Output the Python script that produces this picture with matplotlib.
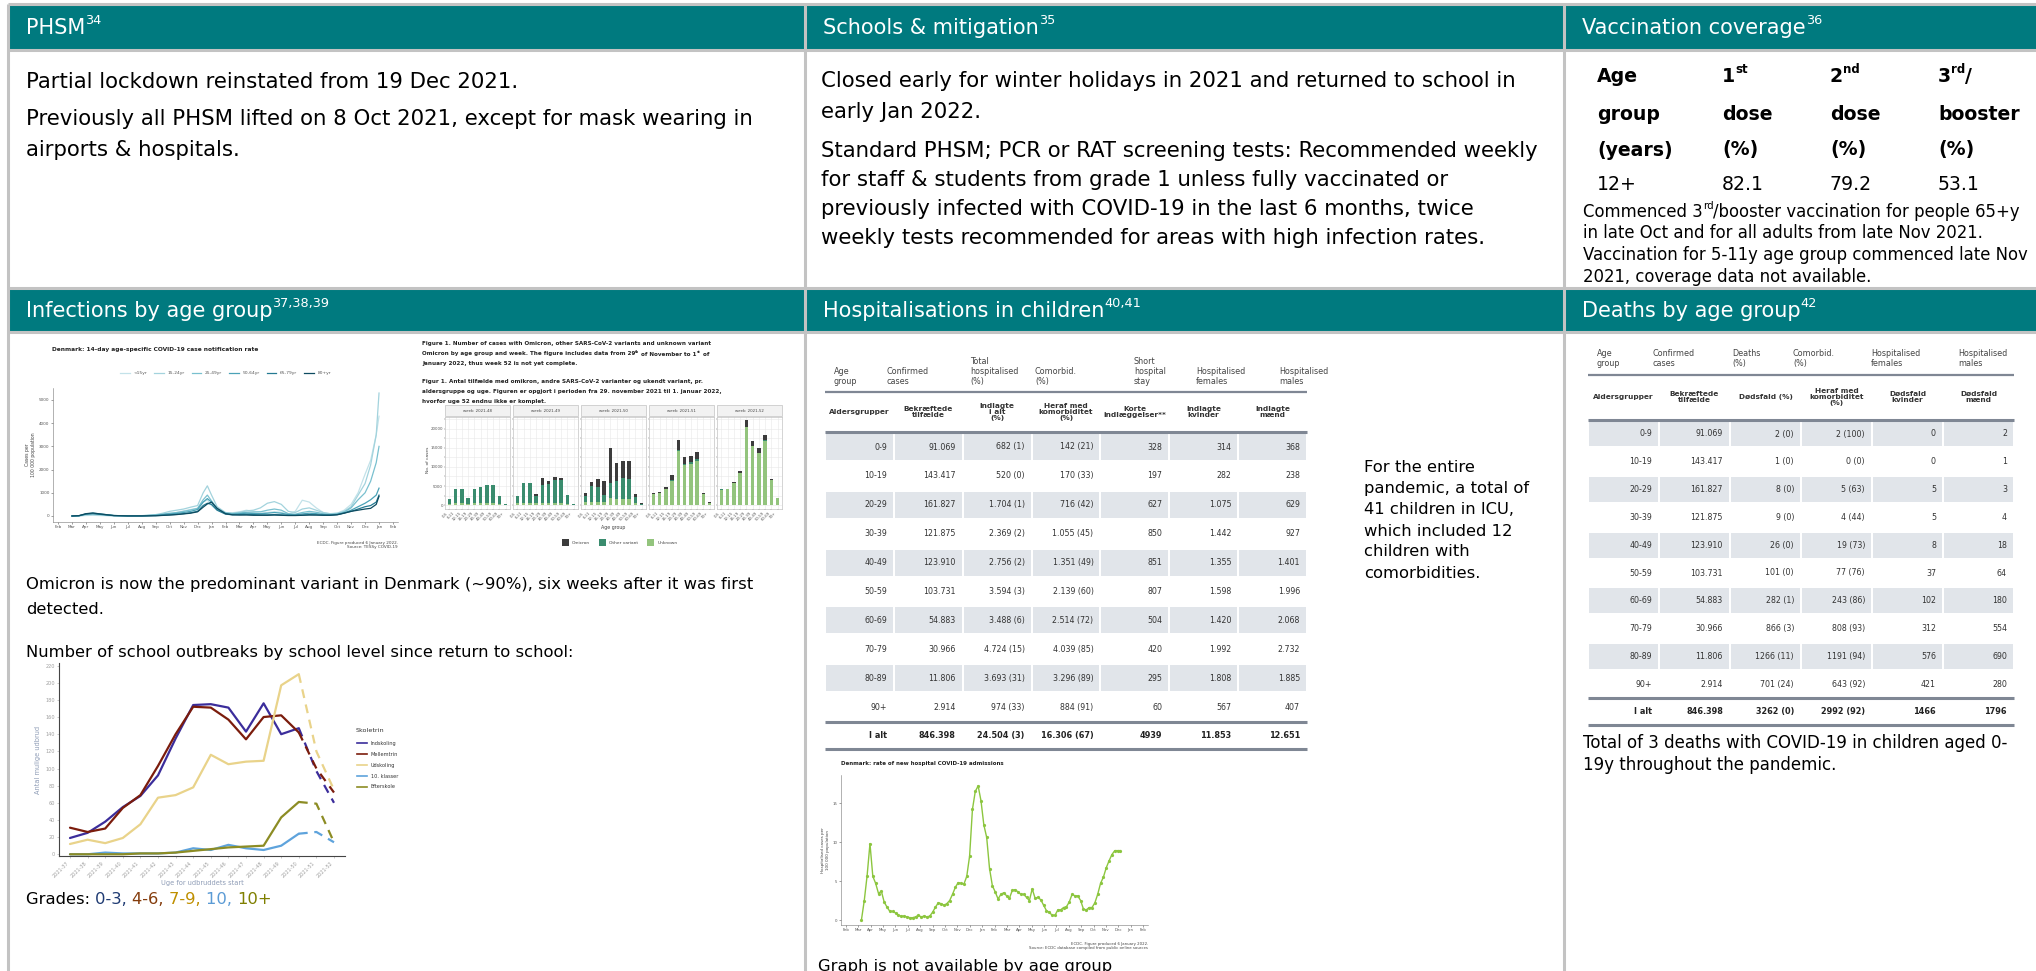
import matplotlib
matplotlib.use('Agg')
import numpy as np
import matplotlib.pyplot as plt
from matplotlib.patches import Rectangle

W, H = 2036, 971
TEAL = '#007a7f'
BORDER = '#c3c3c3'
STRIPE = '#e1e5ea'
RULE = '#7f8794'

plt.rcParams['font.family'] = ['DejaVu Sans']

# ---------------- data ----------------

# vaccination coverage (%)
vacc_age = ['12+']
vacc_dose1 = [82.1]
vacc_dose2 = [79.2]
vacc_booster = [53.1]

# 14-day case notification rate, months counted from Feb 2020
case_groups = ['<15yr', '15-24yr', '25-49yr', '50-64yr', '65-79yr', '80+yr']
case_colors = ['#c3e2e9', '#a3d3dd', '#79c0cf', '#4aa2b7', '#247a92', '#0d4b60']
case_months = [1.0, 1.5, 2.0, 2.5, 3.0, 4.0, 5.0, 6.0, 7.0, 7.5,
               8.0, 8.5, 9.0, 9.5, 10.0, 10.4, 10.7, 11.0, 11.4, 12.0,
               12.5, 13.0, 13.5, 14.0, 14.5, 15.0, 15.5, 16.0, 16.5, 17.0,
               17.5, 18.0, 18.5, 19.0, 19.5, 20.0, 20.5, 21.0, 21.5, 22.0,
               22.4, 22.8, 23.0]
rate_u15 = [0, 5, 20, 30, 20, 5, 3, 10, 30, 60, 90, 150, 220, 280, 330, 600, 700, 450, 250, 120,
            140, 180, 250, 200, 180, 150, 180, 160, 80, 200, 680, 600, 350, 150, 90, 120, 250, 500,
            1000, 1800, 2400, 3500, 4300]
rate_15_24 = [0, 5, 40, 60, 40, 10, 5, 15, 60, 120, 200, 250, 300, 380, 450, 1000, 1300, 900, 400, 150,
              120, 160, 220, 250, 350, 550, 620, 500, 200, 150, 300, 350, 250, 150, 100, 120, 200, 400,
              900, 1400, 2200, 3500, 5300]
rate_25_49 = [0, 10, 80, 110, 80, 20, 8, 10, 40, 80, 120, 150, 200, 260, 330, 700, 900, 650, 330, 130,
              100, 130, 160, 170, 180, 250, 300, 250, 100, 80, 150, 200, 160, 100, 70, 90, 170, 350,
              700, 1000, 1500, 2300, 3000]
rate_50_64 = [0, 10, 90, 120, 90, 20, 5, 5, 30, 60, 90, 110, 150, 200, 280, 600, 750, 600, 300, 110,
              80, 100, 120, 110, 100, 120, 150, 120, 60, 50, 90, 120, 100, 60, 50, 70, 130, 250,
              400, 550, 700, 900, 1200]
rate_65_79 = [0, 10, 80, 100, 70, 15, 3, 3, 15, 30, 50, 70, 100, 140, 200, 450, 550, 500, 250, 80,
              50, 60, 70, 60, 50, 50, 60, 50, 30, 30, 40, 60, 50, 40, 40, 60, 130, 200,
              300, 400, 450, 600, 900]
rate_80 = [0, 15, 100, 130, 90, 20, 3, 3, 10, 25, 40, 60, 90, 120, 180, 380, 520, 600, 330, 100,
           50, 40, 40, 30, 30, 30, 40, 30, 20, 20, 30, 40, 40, 30, 30, 50, 120, 200,
           250, 300, 330, 500, 850]

# variant cases by age group and week
variant_weeks = ['week: 2021-48', 'week: 2021-49', 'week: 2021-50', 'week: 2021-51', 'week: 2021-52']
variant_ages = ['0-5', '6-11', '12-15', '16-19', '20-29', '30-39', '40-49', '50-59', '60-69', '70+']
unknown_cases = [[300, 400, 400, 300, 400, 400, 400, 400, 300, 50],
                 [400, 500, 500, 400, 500, 500, 500, 500, 300, 50],
                 [700, 800, 800, 800, 1800, 1600, 1700, 1600, 600, 100],
                 [2900, 3100, 4150, 6300, 14200, 10400, 10800, 11600, 2800, 630],
                 [4050, 4150, 5850, 8300, 20450, 15500, 13700, 16950, 6450, 1730]]
other_cases = [[1400, 3800, 3900, 1500, 3900, 4300, 4900, 4800, 2200, 250],
               [2100, 5200, 5200, 2100, 4700, 4900, 6100, 6000, 2300, 250],
               [1800, 4300, 4000, 1900, 3900, 4600, 5300, 5200, 1500, 250],
               [100, 100, 150, 200, 300, 300, 400, 400, 100, 20],
               [50, 50, 50, 100, 150, 100, 100, 150, 50, 20]]
omicron_cases = [[0, 0, 0, 0, 30, 30, 30, 100, 0, 0],
                 [0, 0, 0, 400, 2000, 900, 800, 700, 100, 0],
                 [700, 1000, 2000, 3700, 9300, 4800, 4700, 4900, 900, 50],
                 [200, 300, 500, 1300, 2700, 1800, 1800, 2000, 300, 50],
                 [100, 100, 200, 600, 1700, 1200, 1200, 1400, 300, 50]]

# school outbreaks per week
school_weeks = ['2021-37', '2021-38', '2021-39', '2021-40', '2021-41', '2021-42', '2021-43', '2021-44',
                '2021-45', '2021-46', '2021-47', '2021-48', '2021-49', '2021-50', '2021-51', '2021-52']
school_levels = ['Indskoling', 'Mellemtrin', 'Udskoling', '10. klasser', 'Efterskole']
school_colors = ['#3b2d9b', '#7b1c0c', '#e9d38a', '#5ea3dc', '#8c8c24']
indskoling = [19, 25, 38, 55, 68, 92, 135, 174, 175, 171, 143, 176, 140, 147, 97, 60]
mellemtrin = [31, 26, 30, 54, 69, 103, 140, 172, 171, 157, 134, 160, 162, 142, 100, 72]
udskoling = [12, 17, 13, 19, 35, 66, 69, 78, 116, 105, 108, 109, 197, 210, 120, 75]
klasser10 = [0, 0, 2, 1, 1, 1, 2, 7, 5, 11, 7, 5, 10, 24, 26, 14]
efterskole = [0, 0, 0, 0, 1, 1, 2, 4, 6, 8, 9, 10, 43, 61, 59, 14]

# hospitalisations table
age_groups = ['0-9', '10-19', '20-29', '30-39', '40-49', '50-59', '60-69', '70-79', '80-89', '90+']
confirmed = ['91.069', '143.417', '161.827', '121.875', '123.910', '103.731', '54.883', '30.966', '11.806', '2.914']
hosp_total = ['682 (1)', '520 (0)', '1.704 (1)', '2.369 (2)', '2.756 (2)', '3.594 (3)', '3.488 (6)',
              '4.724 (15)', '3.693 (31)', '974 (33)']
hosp_comorb = ['142 (21)', '170 (33)', '716 (42)', '1.055 (45)', '1.351 (49)', '2.139 (60)', '2.514 (72)',
               '4.039 (85)', '3.296 (89)', '884 (91)']
hosp_short = ['328', '197', '627', '850', '851', '807', '504', '420', '295', '60']
hosp_female = ['314', '282', '1.075', '1.442', '1.355', '1.598', '1.420', '1.992', '1.808', '567']
hosp_male = ['368', '238', '629', '927', '1.401', '1.996', '2.068', '2.732', '1.885', '407']
hosp_sum = ['I alt', '846.398', '24.504 (3)', '16.306 (67)', '4939', '11.853', '12.651']

# weekly hospital admissions per 100 000, from early Mar 2020
hosp_rate = [0.0, 2.5, 5.7, 9.8, 5.6, 4.7, 3.4, 3.7, 2.3, 1.65,
             1.1, 1.1, 0.9, 0.6, 0.5, 0.5, 0.4, 0.3, 0.3, 0.4,
             0.6, 0.4, 0.5, 0.4, 0.5, 1.0, 1.65, 2.2, 2.1, 1.9,
             2.1, 2.5, 3.3, 4.2, 4.8, 4.7, 4.6, 5.6, 8.2, 14.2,
             16.5, 17.2, 15.3, 12.2, 10.6, 6.6, 4.4, 3.6, 2.7, 3.3,
             3.5, 3.1, 2.8, 3.8, 3.9, 3.6, 3.3, 3.3, 2.9, 2.5,
             4.0, 2.8, 2.9, 2.6, 1.9, 1.2, 1.0, 0.6, 0.6, 1.3,
             1.3, 1.6, 1.7, 2.3, 3.3, 3.1, 3.1, 2.5, 1.4, 1.3,
             1.6, 1.6, 2.2, 3.3, 4.7, 5.5, 6.7, 7.6, 8.4, 8.9,
             8.9, 8.9]

# deaths table
death_n = ['2 (0)', '1 (0)', '8 (0)', '9 (0)', '26 (0)', '101 (0)', '282 (1)', '866 (3)', '1266 (11)', '701 (24)']
death_comorb = ['2 (100)', '0 (0)', '5 (63)', '4 (44)', '19 (73)', '77 (76)', '243 (86)', '808 (93)',
                '1191 (94)', '643 (92)']
death_female = ['0', '0', '5', '5', '8', '37', '102', '312', '576', '421']
death_male = ['2', '1', '3', '4', '18', '64', '180', '554', '690', '280']
death_sum = ['I alt', '846.398', '3262 (0)', '2992 (92)', '1466', '1796']

MONTHS = ['Jan', 'Feb', 'Mar', 'Apr', 'May', 'Jun', 'Jul', 'Aug', 'Sep', 'Oct', 'Nov', 'Dec']
month_ticks = [MONTHS[(1 + i) % 12] for i in range(25)]


# ---------------- page ----------------

fig = plt.figure(figsize=(W / 100, H / 100), dpi=100)
ax0 = fig.add_axes([0, 0, 1, 1])
ax0.set_xlim(0, W)
ax0.set_ylim(H, 0)
ax0.axis('off')
renderer = fig.canvas.get_renderer()


def px_axes(x0, y0, x1, y1):
    # axes placed by pixel box on the page
    return fig.add_axes([x0 / W, 1 - y1 / H, (x1 - x0) / W, (y1 - y0) / H])


def seq(x, y, parts, size, weight='normal'):
    '''
    writes text pieces one after the other, (text, colour, raised)
    '''
    for s, color, raised in parts:
        fs = size * 0.62 if raised else size
        yy = y - size * 0.5 if raised else y
        t = ax0.text(x, yy, s, fontsize=fs, color=color, weight=weight, va='center', ha='left')
        x = t.get_window_extent(renderer).x1
    return x


def header(x0, x1, y0, y1, title, sup):
    ax0.add_patch(Rectangle((x0, y0), x1 - x0, y1 - y0, facecolor=TEAL, edgecolor='none'))
    seq(x0 + 18, (y0 + y1) / 2 + 1, [(title, 'white', False), (sup, 'white', True)], 15)


# header rows
header(8, W, 5, 50, 'PHSM', '34')
header(805, 1564, 5, 50, 'Schools & mitigation', '35')
header(1564, W, 5, 50, 'Vaccination coverage', '36')
header(8, 805, 288, 332, 'Infections by age group', '37,38,39')
header(805, 1564, 288, 332, 'Hospitalisations in children', '40,41')
header(1564, W, 288, 332, 'Deaths by age group', '42')

# row 1 text
BODY = 15.3
for y, s in zip([82, 119, 150], ['Partial lockdown reinstated from 19 Dec 2021.',
                                 'Previously all PHSM lifted on 8 Oct 2021, except for mask wearing in',
                                 'airports & hospitals.']):
    ax0.text(26, y, s, fontsize=BODY, va='center')

for y, s in zip([81, 112, 151, 180, 209, 238],
                ['Closed early for winter holidays in 2021 and returned to school in',
                 'early Jan 2022.',
                 'Standard PHSM; PCR or RAT screening tests: Recommended weekly',
                 'for staff & students from grade 1 unless fully vaccinated or',
                 'previously infected with COVID-19 in the last 6 months, twice',
                 'weekly tests recommended for areas with high infection rates.']):
    ax0.text(821, y, s, fontsize=BODY, va='center')

# vaccination table
vx = [1597, 1722, 1830, 1938]
vy = [76, 114, 150, 185]
VT = 13.6
seq(vx[0], vy[0], [('Age', 'black', False)], VT, 'bold')
seq(vx[1], vy[0], [('1', 'black', False), ('st', 'black', True)], VT, 'bold')
seq(vx[2], vy[0], [('2', 'black', False), ('nd', 'black', True)], VT, 'bold')
seq(vx[3], vy[0], [('3', 'black', False), ('rd', 'black', True), ('/', 'black', False)], VT, 'bold')
for x, s in zip(vx, ['group', 'dose', 'dose', 'booster']):
    ax0.text(x, vy[1], s, fontsize=VT, weight='bold', va='center')
for x, s in zip(vx, ['(years)', '(%)', '(%)', '(%)']):
    ax0.text(x, vy[2], s, fontsize=VT, weight='bold', va='center')
for x, v in zip(vx, [vacc_age[0], vacc_dose1[0], vacc_dose2[0], vacc_booster[0]]):
    ax0.text(x, vy[3], str(v), fontsize=VT, va='center')

SMALL = 11.9
seq(1583, 212, [('Commenced 3', 'black', False), ('rd', 'black', True),
                ('/booster vaccination for people 65+y', 'black', False)], SMALL)
for y, s in zip([233, 255, 277], ['in late Oct and for all adults from late Nov 2021.',
                                  'Vaccination for 5-11y age group commenced late Nov',
                                  '2021, coverage data not available.']):
    ax0.text(1583, y, s, fontsize=SMALL, va='center')


# ---------------- infections: case rate chart ----------------
ax = px_axes(53, 388, 398, 522)
rates = [rate_u15, rate_15_24, rate_25_49, rate_50_64, rate_65_79, rate_80]
for name, col, r in zip(case_groups, case_colors, rates):
    ax.plot(case_months, r, color=col, lw=0.9, label=name)
ax.set_xlim(-0.36, 24.36)
ax.set_ylim(-259, 5517)
ax.set_yticks(range(0, 5001, 1000))
ax.set_xticks(range(25))
ax.set_xticklabels(month_ticks)
ax.tick_params(labelsize=3, length=1.5, width=0.4, pad=1, colors='#555')
for sp in ['top', 'right']:
    ax.spines[sp].set_visible(False)
for sp in ['left', 'bottom']:
    ax.spines[sp].set_color('#777')
    ax.spines[sp].set_linewidth(0.4)
ax.set_ylabel('Cases per\n100 000 population', fontsize=3.3, color='#444', labelpad=2)
ax.legend(ncol=6, loc='center', bbox_to_anchor=(0.5, 1.11), fontsize=3.2, frameon=False,
          handlelength=2.2, columnspacing=1.6, labelcolor='#555')
ax0.text(52, 350, 'Denmark: 14-day age-specific COVID-19 case notification rate', fontsize=4.2,
         weight='bold', va='center', color='#222')
ax0.text(398, 545, 'ECDC. Figure produced 6 January 2022.\nSource: TESSy COVID-19', fontsize=3,
         ha='right', va='center', color='#444', linespacing=1.1)

# ---------------- infections: variant bar chart ----------------
FIG_T = 4.1
seq(422, 344, [('Figure 1. Number of cases with Omicron, other SARS-CoV-2 variants and unknown variant',
                '#222', False)], FIG_T, 'bold')
seq(422, 354, [('Omicron by age group and week. The figure includes data from 29', '#222', False),
               ('th', '#222', True), (' of November to 1', '#222', False), ('st', '#222', True),
               (' of', '#222', False)], FIG_T, 'bold')
seq(422, 364, [('January 2022, thus week 52 is not yet complete.', '#222', False)], FIG_T, 'bold')
for y, s in zip([382, 392, 402],
                ['Figur 1. Antal tilfælde med omikron, andre SARS-CoV-2 varianter og ukendt variant, pr.',
                 'aldersgruppe og uge. Figuren er opgjort i perioden fra 29. november 2021 til 1. januar 2022,',
                 'hvorfor uge 52 endnu ikke er komplet.']):
    ax0.text(422, y, s, fontsize=FIG_T, weight='bold', va='center', color='#222')

C_UNK, C_OTH, C_OMI = '#93c47d', '#3a8c6e', '#3c3c3c'
pw, gap = 65, 3
for k, wk in enumerate(variant_weeks):
    x0 = 445 + k * (pw + gap)
    axb = px_axes(x0, 417, x0 + pw, 509)
    xs = np.arange(len(variant_ages))
    unk = np.array(unknown_cases[k])
    oth = np.array(other_cases[k])
    omi = np.array(omicron_cases[k])
    axb.bar(xs, unk, 0.55, color=C_UNK, zorder=3)
    axb.bar(xs, oth, 0.55, bottom=unk, color=C_OTH, zorder=3)
    axb.bar(xs, omi, 0.55, bottom=unk + oth, color=C_OMI, zorder=3)
    axb.set_xlim(-0.7, 9.7)
    axb.set_ylim(-1050, 23150)
    axb.set_yticks(range(0, 20001, 5000))
    axb.set_yticks(range(2500, 22501, 5000), minor=True)
    axb.set_xticks(xs)
    axb.set_xticklabels(variant_ages, rotation=45, ha='right', fontsize=2.4, color='#555')
    axb.grid(True, which='both', color='#e8e8e8', lw=0.4, zorder=0)
    axb.tick_params(which='both', length=1, width=0.3, pad=0.5, labelsize=2.8, colors='#555')
    if k > 0:
        axb.set_yticklabels([])
    for sp in axb.spines.values():
        sp.set_color('#b5b5b5')
        sp.set_linewidth(0.4)
    ax0.add_patch(Rectangle((x0, 405), pw, 11, facecolor='#f2f2f2', edgecolor='#b5b5b5', lw=0.4))
    ax0.text(x0 + pw / 2, 410.5, wk, fontsize=2.8, ha='center', va='center', color='#444')

ax0.text(428, 460, 'No. of cases', fontsize=3.2, rotation=90, ha='center', va='center', color='#444')
ax0.text(613, 528, 'Age group', fontsize=3.4, ha='center', va='center', color='#444')
lx = 562
for name, col in zip(['Omicron', 'Other variant', 'Unknown'], [C_OMI, C_OTH, C_UNK]):
    ax0.add_patch(Rectangle((lx, 539), 7, 7, facecolor=col, edgecolor='none'))
    t = ax0.text(lx + 10, 543, name, fontsize=3.2, va='center', color='#444')
    lx = t.get_window_extent(renderer).x1 + 9

# text under infections charts
ROW2 = 11.8
ax0.text(26, 585, 'Omicron is now the predominant variant in Denmark (~90%), six weeks after it was first',
         fontsize=ROW2, va='center')
ax0.text(26, 609, 'detected.', fontsize=ROW2, va='center')
ax0.text(26, 652, 'Number of school outbreaks by school level since return to school:', fontsize=ROW2,
         va='center')

# ---------------- school outbreaks chart ----------------
axs = px_axes(59, 663, 345, 856)
xw = np.arange(len(school_weeks))
for name, col, vals in zip(school_levels, school_colors,
                           [indskoling, mellemtrin, udskoling, klasser10, efterskole]):
    axs.plot(xw[:14], vals[:14], color=col, lw=1.6, solid_capstyle='round')
    axs.plot(xw[13:], vals[13:], color=col, lw=1.6, ls=(0, (4, 3)))
axs.set_xlim(-0.625, 15.625)
axs.set_ylim(-2, 223)
axs.set_yticks(range(0, 221, 20))
axs.set_xticks(xw)
axs.set_xticklabels(school_weeks, rotation=45, ha='right', fontsize=3.2)
axs.tick_params(labelsize=3.6, length=1.5, width=0.4, pad=1.5, colors='#a0a0a0')
for sp in ['top', 'right']:
    axs.spines[sp].set_visible(False)
for sp in ['left', 'bottom']:
    axs.spines[sp].set_color('#444')
    axs.spines[sp].set_linewidth(0.8)
axs.set_xlabel('Uge for udbruddets start', fontsize=4.8, color='#8e9cb6', labelpad=1)
axs.set_ylabel('Antal mulige udbrud', fontsize=4.8, color='#8e9cb6', labelpad=3)

ax0.text(356, 730, 'Skoletrin', fontsize=4.6, va='center', color='#333')
for i, (name, col) in enumerate(zip(school_levels, school_colors)):
    yy = 743 + i * 11
    ax0.plot([357, 367], [yy, yy], color=col, lw=1.2)
    ax0.text(371, yy, name, fontsize=3.6, va='center', color='#333')

seq(26, 900, [('Grades: ', 'black', False), ('0-3, ', '#1f3b73', False), ('4-6, ', '#843c0c', False),
              ('7-9, ', '#bf8f00', False), ('10, ', '#5b9bd5', False), ('10+', '#7f7f00', False)], ROW2)


# ---------------- tables ----------------
def draw_table(edges, first_y, step, rows, total, top, mid, bot):
    for i, row in enumerate(rows):
        y = first_y + i * step
        if i % 2 == 0:
            for c in range(len(edges) - 1):
                ax0.add_patch(Rectangle((edges[c] + 1, y - step / 2 + 1.5), edges[c + 1] - edges[c] - 2,
                                        step - 3, facecolor=STRIPE, edgecolor='none'))
        for c, val in enumerate(row):
            ax0.text(edges[c + 1] - 7, y, val, fontsize=5.7, ha='right', va='center', color='#333')
    for c, val in enumerate(total):
        ax0.text(edges[c + 1] - 7, mid + (bot - mid) / 2, val, fontsize=5.9, ha='right', va='center',
                 color='#222', weight='bold')
    for yl in [top, mid, bot]:
        ax0.plot([edges[0], edges[-1]], [yl, yl], color=RULE, lw=2.2, solid_capstyle='butt')


# hospitalisations
h_edges = np.linspace(825, 1307, 8)
h_rows = list(zip(age_groups, confirmed, hosp_total, hosp_comorb, hosp_short, hosp_female, hosp_male))
draw_table(h_edges, 447, 28.9, h_rows, hosp_sum, 432, 722, 749)
for x, s in zip([834, 887, 970, 1035, 1134, 1196, 1279],
                ['Age\ngroup', 'Confirmed\ncases', 'Total\nhospitalised\n(%)', 'Comorbid.\n(%)',
                 'Short\nhospital\nstay', 'Hospitalised\nfemales', 'Hospitalised\nmales']):
    ax0.text(x, 386, s, fontsize=5.8, va='bottom', ha='left', color='#444', linespacing=1.15)
ax0.plot([825, 1307], [392, 392], color=RULE, lw=1.6, solid_capstyle='butt')
for c, s in enumerate(['Aldersgrupper', 'Bekræftede\ntilfælde', 'Indlagte\ni alt\n(%)',
                       'Heraf med\nkomorbiditet\n(%)', 'Korte\nindlæggelser**', 'Indlagte\nkvinder',
                       'Indlagte\nmænd']):
    ax0.text((h_edges[c] + h_edges[c + 1]) / 2, 412, s, fontsize=5.3, weight='bold', ha='center',
             va='center', color='#333', linespacing=1.0)

for i, s in enumerate(['For the entire', 'pandemic, a total of', '41 children in ICU,', 'which included 12',
                       'children with', 'comorbidities.']):
    ax0.text(1364, 468 + i * 21, s, fontsize=ROW2, va='center')

# deaths
d_edges = np.linspace(1588, 2014, 7)
d_rows = list(zip(age_groups, confirmed, death_n, death_comorb, death_female, death_male))
draw_table(d_edges, 434, 27.8, d_rows, death_sum, 420, 698, 725)
for x, s in zip([1597, 1653, 1732, 1793, 1871, 1958],
                ['Age\ngroup', 'Confirmed\ncases', 'Deaths\n(%)', 'Comorbid.\n(%)', 'Hospitalised\nfemales',
                 'Hospitalised\nmales']):
    ax0.text(x, 368, s, fontsize=5.8, va='bottom', ha='left', color='#444', linespacing=1.15)
ax0.plot([1588, 2014], [375, 375], color=RULE, lw=1.6, solid_capstyle='butt')
for c, s in enumerate(['Aldersgrupper', 'Bekræftede\ntilfælde', 'Dødsfald (%)', 'Heraf med\nkomorbiditet\n(%)',
                       'Dødsfald\nkvinder', 'Dødsfald\nmænd']):
    ax0.text((d_edges[c] + d_edges[c + 1]) / 2, 397, s, fontsize=5.3, weight='bold', ha='center',
             va='center', color='#333', linespacing=1.0)

ax0.text(1583, 743, 'Total of 3 deaths with COVID-19 in children aged 0-', fontsize=12, va='center')
ax0.text(1583, 765, '19y throughout the pandemic.', fontsize=12, va='center')

# ---------------- hospital admissions chart ----------------
axh = px_axes(841, 775, 1148, 925)
hx = 1.25 + np.arange(len(hosp_rate)) * 7 / 30.44
axh.plot(hx, hosp_rate, color='#8cc63f', lw=1.0, marker='o', ms=1.3)
axh.set_xlim(-0.4, 24.4)
axh.set_ylim(-0.64, 18.6)
axh.set_yticks([0, 5, 10, 15])
axh.set_xticks(range(25))
axh.set_xticklabels(month_ticks)
axh.tick_params(labelsize=2.8, length=1.5, width=0.4, pad=1, colors='#555')
for sp in ['top', 'right']:
    axh.spines[sp].set_visible(False)
for sp in ['left', 'bottom']:
    axh.spines[sp].set_color('#777')
    axh.spines[sp].set_linewidth(0.4)
axh.set_ylabel('Hospitalised cases per\n100 000 population', fontsize=3, color='#444', labelpad=2)
ax0.text(841, 763, 'Denmark: rate of new hospital COVID-19 admissions', fontsize=4, weight='bold',
         va='center', color='#222')
ax0.text(1148, 946, 'ECDC. Figure produced 6 January 2022.\nSource: ECDC database compiled from public online sources',
         fontsize=2.8, ha='right', va='center', color='#444', linespacing=1.1)
ax0.text(818, 967, 'Graph is not available by age group', fontsize=ROW2, va='center')

# ---------------- cell borders ----------------
for x in [8, 805, 1564]:
    ax0.plot([x, x], [4, H], color=BORDER, lw=2.2, solid_capstyle='butt')
for y in [4.5, 50, 288, 332]:
    ax0.plot([8, W], [y, y], color=BORDER, lw=2.2, solid_capstyle='butt')

fig.savefig('out.png', dpi=100)
